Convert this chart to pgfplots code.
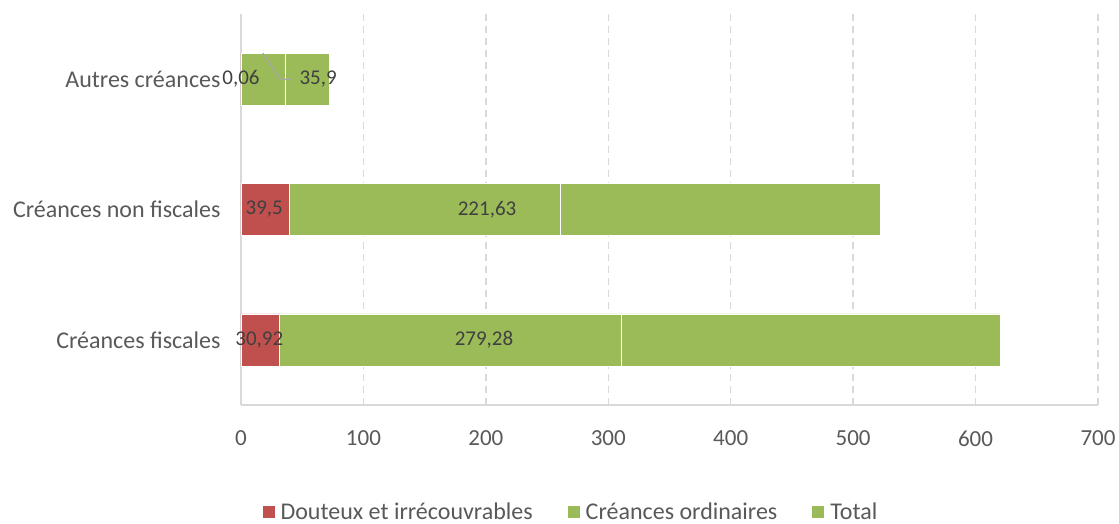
\documentclass[border=0pt]{standalone}
\usepackage{fontspec}
\setmainfont{Carlito}
\usepackage{pgfplots}
\pgfplotsset{compat=1.18}
\usepackage{pgfplotstable}
\definecolor{cred}{HTML}{C0504D}
\definecolor{cgreen}{HTML}{9BBB59}
\definecolor{ctext}{HTML}{595959}
\definecolor{clab}{HTML}{404040}
\definecolor{cgrid}{HTML}{D9D9D9}
\pgfplotstableread{
y dout ord total
0 30.92 279.28 310.2
1 39.5 221.63 261.13
2 0.06 35.9 35.96
}\datatable
\tikzset{dlab/.style={font=\fontsize{21bp}{24bp}\selectfont, text=clab}}
\begin{document}
\begin{tikzpicture}
\path[use as bounding box] (-241bp,-119bp) rectangle (878bp,405bp);
\begin{axis}[
 at={(0,0)}, anchor=south west,
 scale only axis, width=857bp, height=391bp,
 xbar stacked, bar width=52bp,
 xmin=0, xmax=700, ymin=-0.5, ymax=2.5,
 xtick={0,100,...,700},
 ytick={0,1,2},
 yticklabels={Créances fiscales, Créances non fiscales, Autres créances},
 axis x line*=bottom, axis y line*=left,
 axis line style={-, draw=cgrid, line width=1.3bp},
 xmajorgrids,
 major grid style={draw=cgrid, line width=1.3bp, dash pattern=on 7bp off 5bp},
 major tick length=0pt,
 tick style={draw=none},
 /pgf/number format/assume math mode=true,
 xticklabel style={font=\fontsize{23bp}{26bp}\selectfont, text=ctext, yshift=-22bp},
 yticklabel style={font=\fontsize{24bp}{26bp}\selectfont, text=ctext, xshift=-17bp},
 legend columns=3,
 legend style={at={(0.385,-0.273)}, anchor=center, draw=none, fill=none,
   font=\fontsize{24bp}{26bp}\selectfont, text=ctext,
   /tikz/every odd column/.append style={column sep=4bp},
   /tikz/every even column/.append style={column sep=33bp}},
 legend image code/.code={\fill[#1, draw=none] (0bp,-6bp) rectangle (12bp,6bp);},
 after end axis/.code={
   \draw[gray!70, line width=1.3bp] (axis cs:18,2.2) -- (axis cs:32,2) -- (axis cs:42,2);
   \node[dlab] at (axis cs:15,0) {30,92};
   \node[dlab] at (axis cs:198.5,0) {279,28};
   \node[dlab] at (axis cs:19,1) {39,5};
   \node[dlab] at (axis cs:201,1) {221,63};
   \node[dlab] at (axis cs:0,2) {0,06};
   \node[dlab] at (axis cs:63,2) {35,9};
 },
]
\addplot[fill=cred, draw=white, line width=0.5bp] table[x=dout, y=y] {\datatable};
\addplot[fill=cgreen, draw=white, line width=0.5bp] table[x=ord, y=y] {\datatable};
\addplot[fill=cgreen, draw=white, line width=0.5bp] table[x=total, y=y] {\datatable};
\legend{Douteux et irrécouvrables, Créances ordinaires, Total}
\end{axis}
\end{tikzpicture}
\end{document}
